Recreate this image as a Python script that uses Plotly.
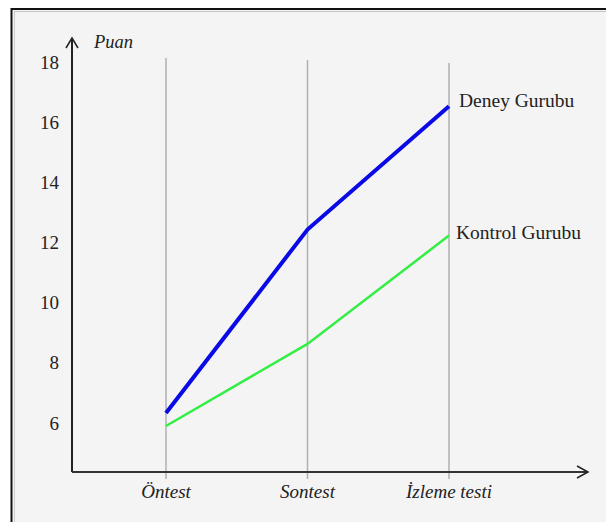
import plotly.graph_objects as go

categories = ["Öntest", "Sontest", "İzleme testi"]
deney = [6.33, 12.43, 16.53]
kontrol = [5.9, 8.63, 12.23]
y_ticks = [6, 8, 10, 12, 14, 16, 18]
series_names = ["Deney Gurubu", "Kontrol Gurubu"]

OFF = 8  # default page body margin
W, H = 614 - OFF, 522 - OFF
# plot area in reference pixel coords
L, R, T, B = 72, 588, 38, 472

def px(xp):
    return (xp - L) / (R - L)

def py(yp):
    return (B - yp) / (B - T)

xs = list(range(len(categories)))

fig = go.Figure()
fig.add_trace(go.Scatter(x=xs, y=kontrol, mode="lines",
                         line=dict(color="#33ee44", width=2.5), hoverinfo="skip"))
fig.add_trace(go.Scatter(x=xs, y=deney, mode="lines",
                         line=dict(color="#0a0ae6", width=4), hoverinfo="skip"))

serif = "Liberation Serif, Times New Roman, serif"
bg = "#f4f4f4"

shapes = []
shapes.append(dict(type="rect", xref="paper", yref="paper",
                   x0=px(12), x1=px(640), y0=py(8), y1=py(540),
                   fillcolor=bg, line=dict(width=0), layer="below"))
shapes.append(dict(type="line", xref="paper", yref="paper",
                   x0=px(11), x1=px(640), y0=py(9), y1=py(9),
                   line=dict(color="#111111", width=2)))
shapes.append(dict(type="line", xref="paper", yref="paper",
                   x0=px(14), x1=px(640), y0=py(11.5), y1=py(11.5),
                   line=dict(color="#c4c4c4", width=1)))
shapes.append(dict(type="line", xref="paper", yref="paper",
                   x0=px(11.5), x1=px(11.5), y0=py(8), y1=py(540),
                   line=dict(color="#111111", width=2)))
shapes.append(dict(type="line", xref="paper", yref="paper",
                   x0=px(14.5), x1=px(14.5), y0=py(11), y1=py(540),
                   line=dict(color="#cccccc", width=1)))
tops = [58, 60, 63]
for i, t in zip(xs, tops):
    shapes.append(dict(type="line", xref="x", yref="paper",
                       x0=i, x1=i, y0=py(479), y1=py(t),
                       line=dict(color="#b0b0b0", width=1.5), layer="below"))
shapes.append(dict(type="line", xref="paper", yref="paper",
                   x0=0, x1=0, y0=0, y1=1, line=dict(color="#222222", width=2)))
shapes.append(dict(type="line", xref="paper", yref="paper",
                   x0=0, x1=1, y0=0, y1=0, line=dict(color="#333333", width=2)))
shapes.append(dict(type="path", xref="paper", yref="paper",
                   path=f"M {px(66)},{py(48)} L {px(72)},{py(38)} L {px(78)},{py(48)}",
                   line=dict(color="#222222", width=1.5)))
shapes.append(dict(type="path", xref="paper", yref="paper",
                   path=f"M {px(577)},{py(466)} L {px(588)},{py(472)} L {px(577)},{py(478)}",
                   line=dict(color="#222222", width=1.5)))

annotations = [
    dict(text="Puan", x=px(91), y=py(42), xref="paper", yref="paper",
         xanchor="left", yanchor="middle", showarrow=False,
         font=dict(family=serif, size=18.5, color="#222222", style="italic")),
    dict(text=series_names[0], x=2, y=deney[2], xref="x", yref="y",
         xanchor="left", yanchor="middle", xshift=8, yshift=6, showarrow=False,
         font=dict(family=serif, size=19.5, color="#222222")),
    dict(text=series_names[1], x=2, y=kontrol[2], xref="x", yref="y",
         xanchor="left", yanchor="middle", xshift=5, yshift=3, showarrow=False,
         font=dict(family=serif, size=19.5, color="#222222")),
]

fig.update_layout(
    width=W, height=H,
    margin=dict(l=L - OFF, r=614 - R, t=T - OFF, b=522 - B, pad=0),
    paper_bgcolor="white", plot_bgcolor=bg,
    showlegend=False,
    shapes=shapes, annotations=annotations,
    xaxis=dict(range=[(L - 166) / 141.5, (R - 166) / 141.5],
               tickvals=xs, ticktext=categories,
               showgrid=False, zeroline=False, showline=False, ticks="",
               ticklabelstandoff=6,
               tickfont=dict(family=serif, size=19, color="#222222", style="italic")),
    yaxis=dict(range=[6 - (B - 423) / 30.08, 18 + (62 - T) / 30.08],
               tickvals=y_ticks,
               showgrid=False, zeroline=False, showline=False, ticks="",
               ticklabelstandoff=12,
               tickfont=dict(family=serif, size=19, color="#222222")),
)

fig.write_html("out.html")
